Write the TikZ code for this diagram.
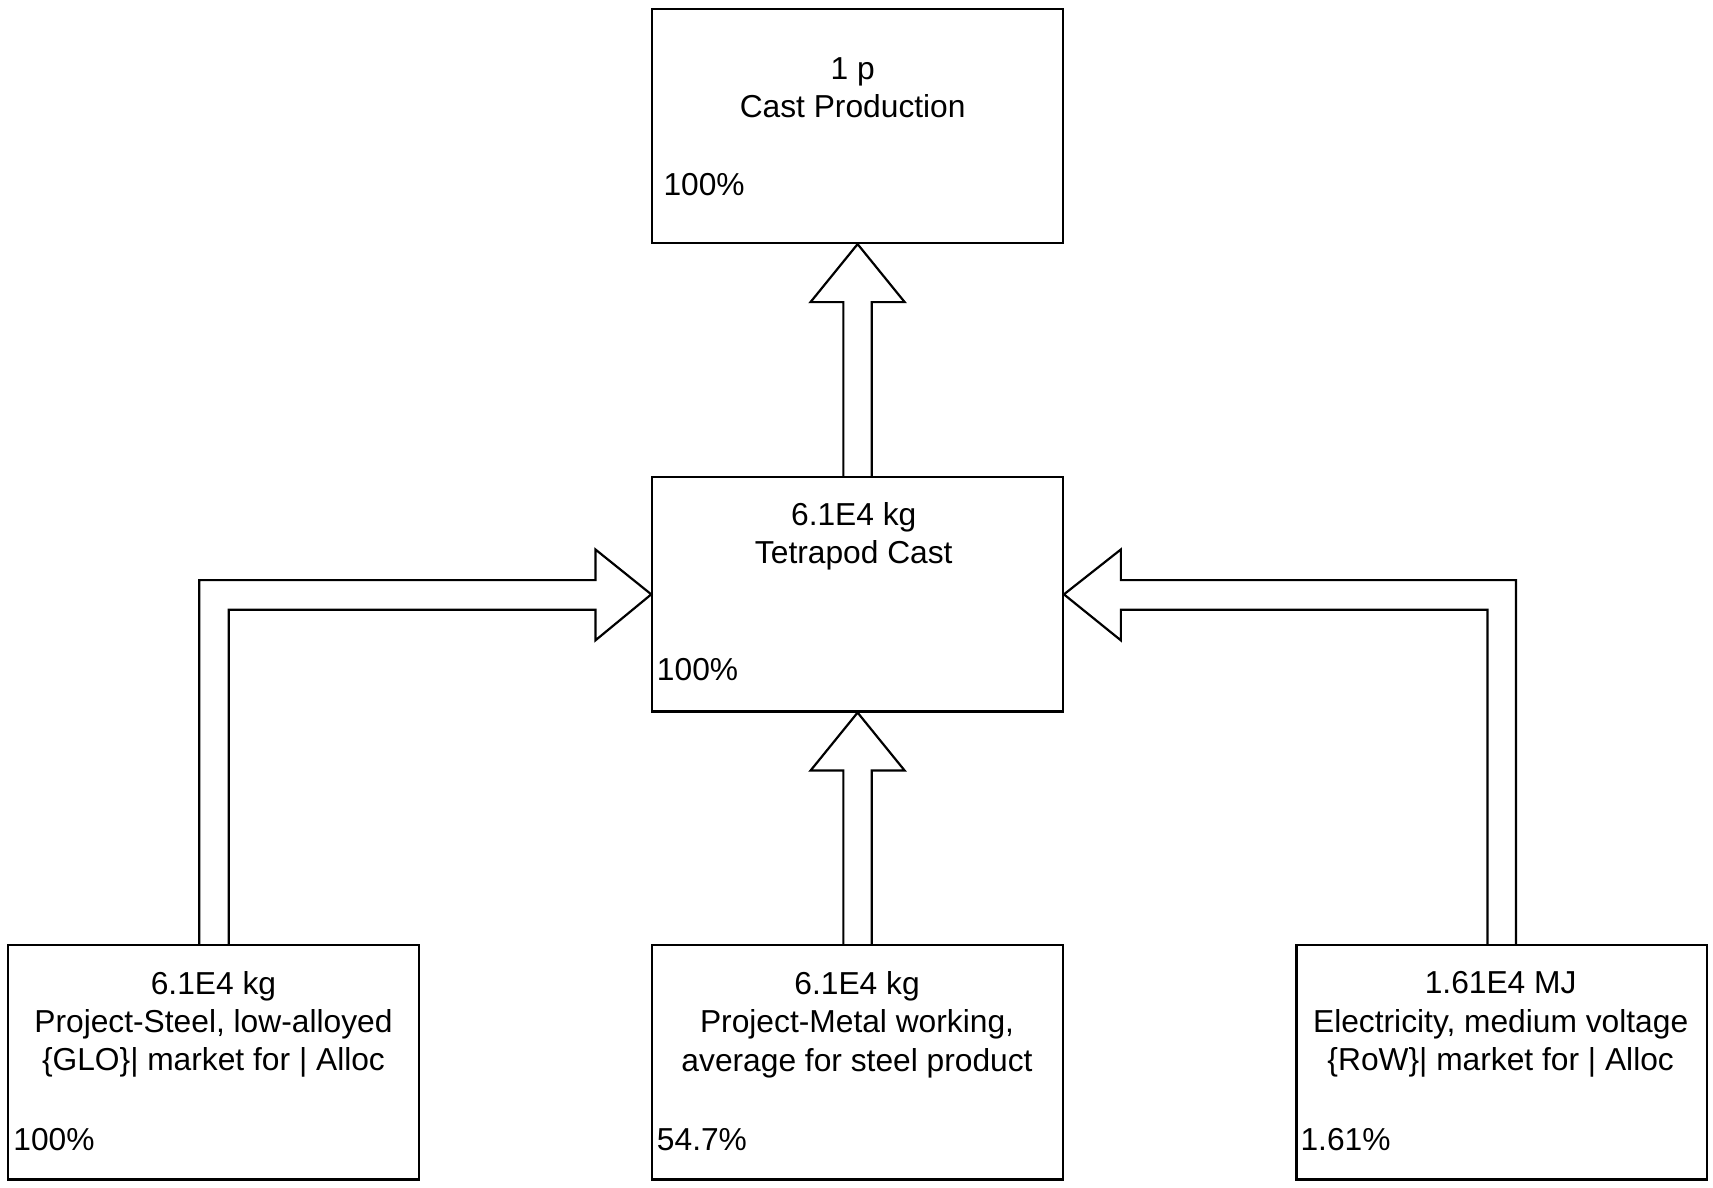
\documentclass[tikz,border=0pt]{standalone}
\usepackage{fontspec}
\setmainfont{Liberation Sans}
\usetikzlibrary{calc}
\begin{document}
\begin{tikzpicture}[x=1pt,y=-1pt,
  box/.style={draw=black,line width=2pt,minimum width=375pt,minimum height=214pt,inner sep=0pt},
  lbl/.style={align=center,inner sep=0pt,font=\fontsize{29}{35}\selectfont},
  pct/.style={anchor=west,inner sep=0pt,font=\fontsize{29}{35}\selectfont},
  flow/.style={draw=black,line width=2pt,line join=miter}]
\useasboundingbox (0,0) rectangle (1565,1085);
% boxes
\node[box] (top) at (783.5,115) {};
\node[box] (mid) at (783.5,543) {};
\node[box] (bl) at (195,970.5) {};
\node[box] (bm) at (783.5,970.5) {};
\node[box] (br) at (1372,970.5) {};
% texts
\node[lbl] (tt) at (779,80) {1 p\\Cast Production};
\node[pct] (tp) at (606,169) {100\%};
\node[lbl] (mt) at (780,490) {6.1E4 kg\\Tetrapod Cast};
\node[pct] (mp) at (600,612) {100\%};
\node[lbl] (blt) at (195,936) {6.1E4 kg\\Project-Steel, low-alloyed\\\{GLO\}| market for | Alloc};
\node[pct] (blp) at (12,1041) {100\%};
\node[lbl] (bmt) at (783,936) {6.1E4 kg\\Project-Metal working,\\average for steel product};
\node[pct] (bmp) at (600,1041) {54.7\%};
\node[lbl] (brt) at (1371,936) {1.61E4 MJ\\Electricity, medium voltage\\\{RoW\}| market for | Alloc};
\node[pct] (brp) at (1188,1041) {1.61\%};
% mid -> top
\draw[flow] ($(mid.north)+(-13,0)$) |- ($(top.south)+(-43,53)$) -- (top.south)
  -- ($(top.south)+(43,53)$) -| ($(mid.north)+(13,0)$);
% bm -> mid
\draw[flow] ($(bm.north)+(-13,0)$) |- ($(mid.south)+(-43,53)$) -- (mid.south)
  -- ($(mid.south)+(43,53)$) -| ($(bm.north)+(13,0)$);
% bl -> mid
\draw[flow] ($(bl.north)+(-13,0)$) |- ($(mid.west)+(-51,-13)$) -- ($(mid.west)+(-51,-41)$)
  -- (mid.west) -- ($(mid.west)+(-51,42)$) -- ($(mid.west)+(-51,14)$) -| ($(bl.north)+(14,0)$);
% br -> mid
\draw[flow] ($(br.north)+(13,0)$) |- ($(mid.east)+(52,-13)$) -- ($(mid.east)+(52,-41)$)
  -- (mid.east) -- ($(mid.east)+(52,42)$) -- ($(mid.east)+(52,14)$) -| ($(br.north)+(-13,0)$);
\end{tikzpicture}
\end{document}
